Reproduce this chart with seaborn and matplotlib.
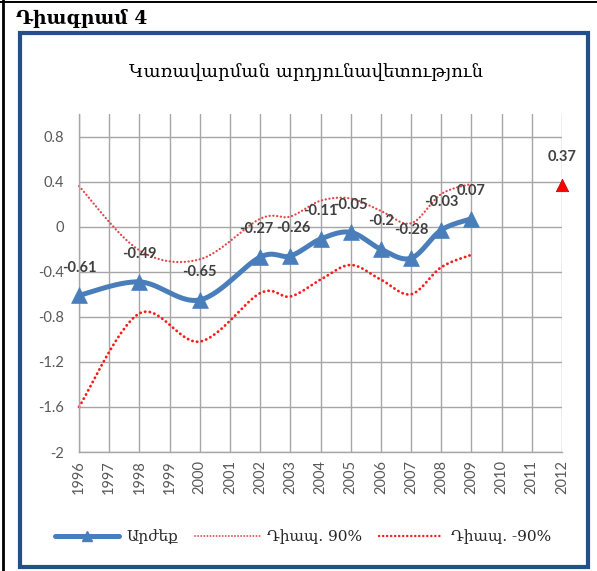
import numpy as np
import matplotlib
matplotlib.use("Agg")
import matplotlib.pyplot as plt
import seaborn as sns
from matplotlib.patches import Rectangle
from matplotlib.lines import Line2D

# --- data ---
years = [str(y) for y in range(1996, 2013)]
data_years = ['1996', '1998', '2000', '2002', '2003', '2004', '2005', '2006', '2007', '2008', '2009']
values = [-0.61, -0.49, -0.65, -0.27, -0.26, -0.11, -0.05, -0.2, -0.28, -0.03, 0.07]
upper = [0.36, -0.21, -0.29, 0.07, 0.09, 0.23, 0.25, 0.14, 0.03, 0.29, 0.38]
lower = [-1.6, -0.77, -1.02, -0.59, -0.62, -0.47, -0.34, -0.47, -0.6, -0.36, -0.25]
forecast_years = ['2012']
forecast_values = [0.37]
y_ticks = [-2, -1.6, -1.2, -0.8, -0.4, 0, 0.4, 0.8]

fig_title = "Դիագրամ 4"
chart_title = "Կառավարման արդյունավետություն"
legend_labels = ["Արժեք", "Դիապ. 90%", "Դիապ. -90%"]

BLUE = '#4A7EBB'
GRID = '#A6A6A6'
DOT = (0, (0.1, 1.6))
# small sideways nudges so neighbouring labels just touch instead of overlap
nudge = {'2002': -2.5, '2003': 2.5}


def smooth(xs, ys, n=30):
    # excel style smoothed line (bezier through the points)
    pts = np.column_stack([xs, ys]).astype(float)
    out = []
    for i in range(len(pts) - 1):
        p0 = pts[max(i - 1, 0)]
        p1 = pts[i]
        p2 = pts[i + 1]
        p3 = pts[min(i + 2, len(pts) - 1)]
        c1 = p1 + (p2 - p0) / 6
        c2 = p2 - (p3 - p1) / 6
        t = np.linspace(0, 1, n)[:, None]
        seg = (1 - t) ** 3 * p1 + 3 * (1 - t) ** 2 * t * c1 + 3 * (1 - t) * t ** 2 * c2 + t ** 3 * p2
        out.append(seg if i == 0 else seg[1:])
    return np.vstack(out)


sns.set_theme(style='white')
plt.rcParams['font.family'] = ['Lato', 'DejaVu Sans']
SERIF = ['DejaVu Serif', 'DejaVu Sans']

fig = plt.figure(figsize=(5.97, 5.71), dpi=100)
ax = fig.add_axes([79 / 597, 1 - 452 / 571, 483 / 597, 338 / 571])

xpos = [years.index(y) for y in data_years]
fx = [years.index(y) for y in forecast_years]

for series, col, lw in [(upper, '#E04848', 1.6), (lower, '#FF1A1A', 2.0)]:
    c = smooth(xpos, series)
    sns.lineplot(x=c[:, 0], y=c[:, 1], sort=False, estimator=None, ax=ax,
                 color=col, lw=lw, linestyle=DOT, dash_capstyle='round', clip_on=False)

c = smooth(xpos, values)
sns.lineplot(x=c[:, 0], y=c[:, 1], sort=False, estimator=None, ax=ax,
             color=BLUE, lw=3.6, solid_capstyle='round', clip_on=False)
sns.scatterplot(x=xpos, y=values, ax=ax, marker='^', s=130, color=BLUE,
                edgecolor=BLUE, linewidth=0.5, clip_on=False, zorder=5)
sns.scatterplot(x=fx, y=forecast_values, ax=ax, marker='^', s=80, color='#FF0000',
                edgecolor='#C00000', linewidth=0.5, clip_on=False, zorder=5)

for yr, x, v in list(zip(data_years, xpos, values)) + list(zip(forecast_years, fx, forecast_values)):
    ax.annotate(f'{v:g}', (x, v), xytext=(nudge.get(yr, 0), 20), textcoords='offset points',
                ha='center', va='center', fontsize=10.5, fontweight='bold', color='#404040')

ax.set_xlim(0, len(years) - 1)
ax.set_ylim(-2, 1.0)
ax.set_xticks(range(len(years)))
ax.set_xticklabels(years, rotation=90)
ax.set_yticks(y_ticks)
ax.set_yticklabels([f'{t:g}' for t in y_ticks])
ax.tick_params(length=0, labelsize=10.5, labelcolor='#595959')
ax.tick_params(axis='y', pad=11)
ax.tick_params(axis='x', pad=6)
ax.grid(True, color=GRID, lw=1)
for s in ['top', 'right']:
    ax.spines[s].set_visible(False)
for s in ['left', 'bottom']:
    ax.spines[s].set_color(GRID)
    ax.spines[s].set_linewidth(1)

# titles
fig.text(16 / 597, 1 - 18 / 571, fig_title, fontsize=13.5, fontweight='bold',
         family=SERIF, ha='left', va='center', color='black')
fig.text(306 / 597, 1 - 72 / 571, chart_title, fontsize=13, family=SERIF,
         ha='center', va='center', color='black')

# legend
handles = [Line2D([], [], color=BLUE, lw=3.6, marker='^', markersize=7),
           Line2D([], [], color='#E04848', lw=1.3, linestyle=DOT, dash_capstyle='round'),
           Line2D([], [], color='#FF1A1A', lw=1.7, linestyle=DOT, dash_capstyle='round')]
fig.legend(handles, legend_labels, loc='center', bbox_to_anchor=(303 / 597, 1 - 537 / 571),
           ncol=3, frameon=False, prop={'family': SERIF, 'size': 11},
           handlelength=4.2, columnspacing=1.1, handletextpad=0.5)

# frames
fig.add_artist(Rectangle((20 / 597, 1 - 567 / 571), 568 / 597, 534 / 571, transform=fig.transFigure,
                         fill=False, ec='#24508A', lw=3))
fig.add_artist(Line2D([0, 1], [1 - 1.5 / 571] * 2, transform=fig.transFigure, color='black', lw=1.4))
fig.add_artist(Line2D([2.5 / 597] * 2, [0, 1], transform=fig.transFigure, color='black', lw=2))

fig.savefig('out.png', dpi=100)
